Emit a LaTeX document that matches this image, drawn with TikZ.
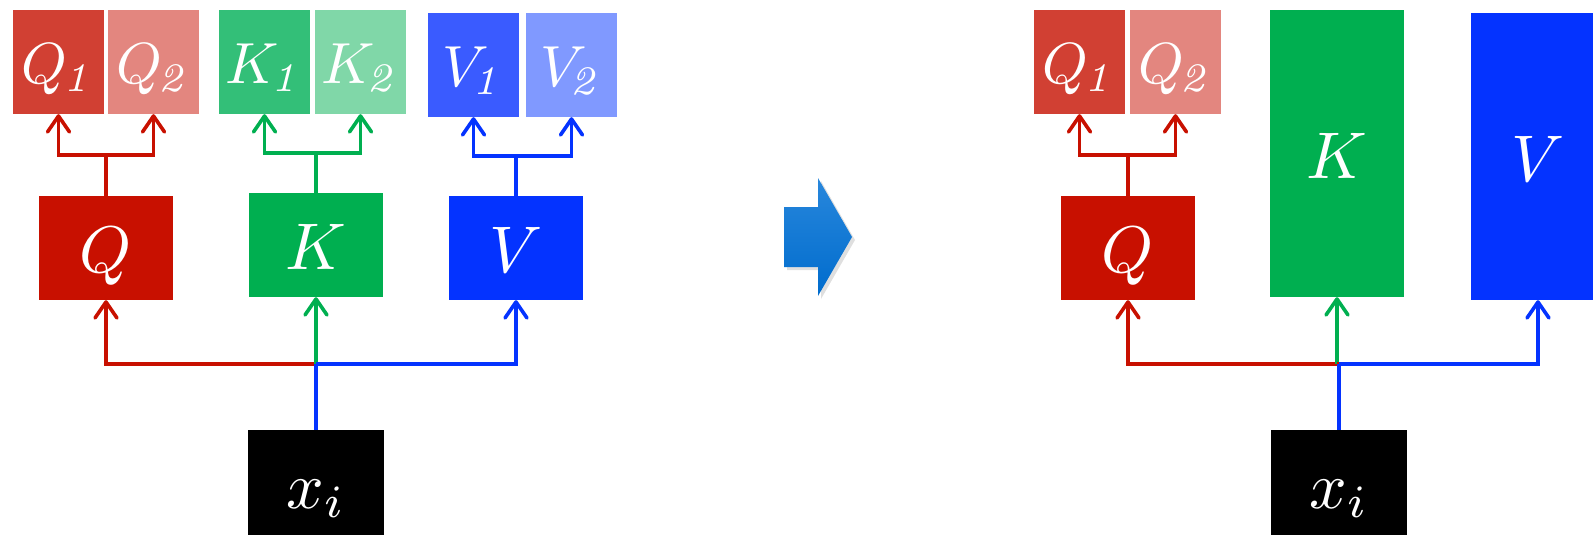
\documentclass[tikz,border=0pt]{standalone}
\usepackage{graphicx}
\usetikzlibrary{arrows.meta,shadows}
\definecolor{Qc}{RGB}{200,16,0}
\definecolor{Qa}{RGB}{209,64,51}
\definecolor{Qb}{RGB}{227,134,127}
\definecolor{Kc}{RGB}{0,175,80}
\definecolor{Ka}{RGB}{51,191,120}
\definecolor{Kb}{RGB}{128,215,168}
\definecolor{Vc}{RGB}{4,51,255}
\definecolor{Va}{RGB}{58,91,255}
\definecolor{Vb}{RGB}{128,153,255}
\definecolor{arrtop}{RGB}{40,135,220}
\definecolor{arrbot}{RGB}{0,108,205}
\newcommand{\lbl}[1]{\scalebox{6.6}{$#1$}}
\newcommand{\slbl}[2]{\scalebox{5.8}{$#1_{\mkern-1.5mu\mathit{#2}}$}}
\tikzset{
  box/.style={rectangle, inner sep=0pt, text=white},
  smallbox/.style={box, minimum width=91pt, minimum height=104pt, text height=42pt, text depth=0pt},
  bigbox/.style={box, minimum width=134pt, minimum height=104pt, text height=49pt, text depth=0pt},
  tallbox/.style={box, minimum width=134pt, minimum height=287pt, text height=49pt, text depth=0pt},
  xbox/.style={box, fill=black, minimum width=136pt, minimum height=140pt, text height=16pt, text depth=0pt},
  conn/.style={line width=3.6pt},
  tipped/.style={conn, -{Straight Barb[length=16pt,width=22pt,round]}},
}
\begin{document}
\begin{tikzpicture}[x=1pt,y=-1pt]
\useasboundingbox (0,0) rectangle (1593,535);
\clip (0,0) rectangle (1593,535);
% ---------------- left panel ----------------
\node[smallbox, fill=Qa] (Q1) at (58.5,62) {\slbl{Q}{1}};
\node[smallbox, fill=Qb] (Q2) at (153.5,62) {\slbl{Q}{2}};
\node[smallbox, fill=Ka] (K1) at (264.5,62) {\slbl{K}{1}};
\node[smallbox, fill=Kb] (K2) at (360.5,62) {\slbl{K}{2}};
\node[smallbox, fill=Va] (V1) at (473.5,65) {\slbl{V}{1}};
\node[smallbox, fill=Vb] (V2) at (571.5,65) {\slbl{V}{2}};
\node[bigbox, fill=Qc] (Q) at (106,248) {\lbl{Q}};
\node[bigbox, fill=Kc] (K) at (316,245) {\lbl{K}};
\node[bigbox, fill=Vc] (V) at (516,248) {\lbl{V}};
\node[xbox] (X) at (316,500) {\lbl{x_i}};

\draw[tipped, Qc] (Q.north) -- (Q.north |- 0,155) -| (Q1.south);
\draw[tipped, Qc] (Q.north) -- (Q.north |- 0,155) -| (Q2.south);
\draw[tipped, Kc] (K.north) -- (K.north |- 0,153) -| (K1.south);
\draw[tipped, Kc] (K.north) -- (K.north |- 0,153) -| (K2.south);
\draw[tipped, Vc] (V.north) -- (V.north |- 0,156) -| (V1.south);
\draw[tipped, Vc] (V.north) -- (V.north |- 0,156) -| (V2.south);

\coordinate (J) at (X.north |- 0,364);
\draw[tipped, Qc] (J) -| (Q.south);
\draw[tipped, Kc] (J) -- (K.south);
\draw[tipped, Vc] (J) -| (V.south);
\draw[conn, Vc] (X.north) -- (J);

% ---------------- transition arrow ----------------
\path[top color=arrtop, bottom color=arrbot,
      drop shadow={opacity=0.25, shadow xshift=3pt, shadow yshift=-3pt}]
  (784,207) -- (818,207) -- (818,178) -- (852,237) -- (818,296) -- (818,267) -- (784,267) -- cycle;

% ---------------- right panel ----------------
\node[smallbox, fill=Qa] (rQ1) at (1079.5,62) {\slbl{Q}{1}};
\node[smallbox, fill=Qb] (rQ2) at (1175.5,62) {\slbl{Q}{2}};
\node[bigbox, fill=Qc] (rQ) at (1128,248) {\lbl{Q}};
\node[tallbox, fill=Kc] (rK) at (1337,153.5) {\lbl{K}};
\node[tallbox, fill=Vc] (rV) at (1538,156.5) {\lbl{V}};
\node[xbox] (rX) at (1339,500) {\lbl{x_i}};

\draw[tipped, Qc] (rQ.north) -- (rQ.north |- 0,155) -| (rQ1.south);
\draw[tipped, Qc] (rQ.north) -- (rQ.north |- 0,155) -| (rQ2.south);

\coordinate (rJ) at (rX.north |- 0,364);
\draw[tipped, Qc] (rJ) -| (rQ.south);
\draw[tipped, Kc] (rK.south |- rJ) -- (rK.south);
\draw[conn, Qc] (rJ) -- (rK.south |- rJ);
\draw[tipped, Vc] (rJ) -| (rV.south);
\draw[conn, Vc] (rX.north) -- (rJ);
\end{tikzpicture}
\end{document}
